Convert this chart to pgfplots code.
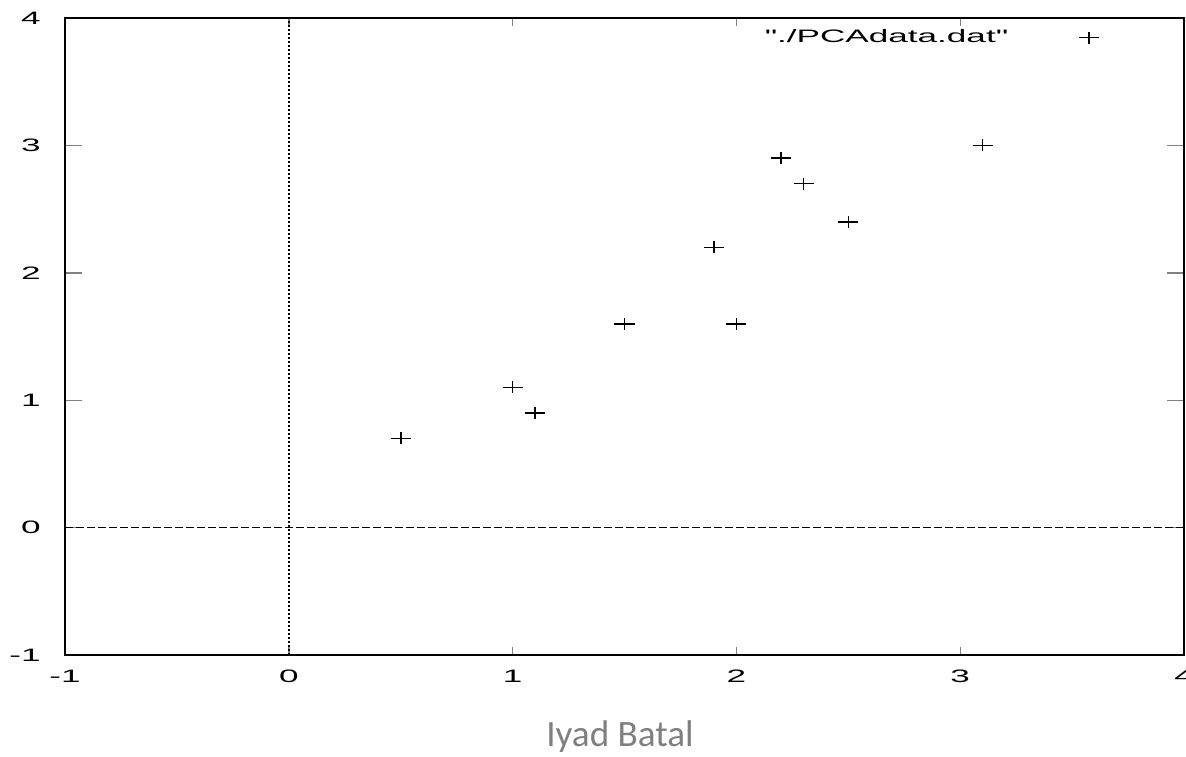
\documentclass[border=0pt]{standalone}
\usepackage{fontspec}
\setmainfont{Liberation Sans}
\newfontfamily\plainfont{Liberation Sans}[Ligatures=TeXOff]
\newfontfamily\calfont{Carlito}
\usepackage{graphicx}
\usepackage{pgfplots}
\pgfplotsset{compat=1.18}

\definecolor{authorgray}{RGB}{127,127,127}
% gnuplot output was stretched sideways, so the text is too
\newcommand{\sx}[1]{\scalebox{1.95}[1]{#1}}

\begin{document}
\begin{tikzpicture}
\begin{axis}[
  scale only axis, width=559.5pt, height=318.5pt,
  at={(0,0)}, anchor=south west,
  xmin=-1, xmax=4, ymin=-1, ymax=4,
  xtick={-1,0,1,2,3,4}, ytick={-1,0,1,2,3,4},
  xticklabels={\sx{-1},\sx{0},\sx{1},\sx{2},\sx{3},\sx{4}},
  yticklabels={\sx{-1},\sx{0},\sx{1},\sx{2},\sx{3},\sx{4}},
  tick label style={font=\fontsize{9}{11}\selectfont},
  xticklabel style={anchor=north, inner sep=0pt, yshift=-7.5pt},
  yticklabel style={anchor=east, inner sep=0pt, xshift=-12pt},
  tick align=inside, xtick pos=both, ytick pos=both,
  xtick style={/pgfplots/major tick length=4pt, line width=0.7pt},
  ytick style={/pgfplots/major tick length=8.5pt, line width=0.7pt},
  axis line style={line width=1pt},
  legend plot pos=right,
  legend style={draw=none, fill=none, at={(0.930,0.995)}, anchor=north east,
    font=\plainfont\fontsize{9}{11}\selectfont, column sep=0pt},
  legend cell align=right,
]
\draw[line width=0.8pt, dash pattern=on 1.2pt off 0.8pt] (axis cs:0,-1) -- (axis cs:0,4);
\draw[line width=0.6pt, dash pattern=on 4pt off 1.5pt] (axis cs:-1,0) -- (axis cs:4,0);
\addplot[only marks, mark=+, mark size=3pt, line width=0.8pt, mark options={xscale=1.67}]
  coordinates {(2.5,2.4) (0.5,0.7) (2.2,2.9) (1.9,2.2) (3.1,3.0) (2.3,2.7) (2.0,1.6) (1.0,1.1) (1.5,1.6) (1.1,0.9)};
\addlegendentry{\sx{"./PCAdata.dat"}\rule{33.5pt}{0pt}}
\end{axis}
\node[anchor=base, font=\calfont\fontsize{18.6}{22}\selectfont, text=authorgray, inner sep=0pt] at (277.5pt,-45.5pt) {Iyad Batal};
\pgfresetboundingbox
\useasboundingbox (-32.5pt,-50.5pt) rectangle (560.5pt,327.5pt);
\end{tikzpicture}
\end{document}
